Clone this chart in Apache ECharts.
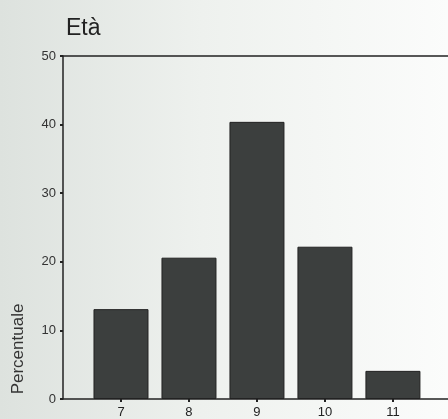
<!DOCTYPE html>
<html><head><meta charset="utf-8">
<script src="https://cdn.jsdelivr.net/npm/echarts@6/dist/echarts.min.js"></script>
<style>html,body{margin:0;padding:0;}#c{width:448px;height:419px;}</style>
</head><body><div id="c"></div>
<script>
const categories = [7, 8, 9, 10, 11];
const percentuale = [13.1, 20.6, 40.4, 22.2, 4.1];
const yTicks = [0, 10, 20, 30, 40, 50];
const titleText = 'Età';
const yName = 'Percentuale';

const chart = echarts.init(document.getElementById('c'));
const F = 'Liberation Sans, Arial, sans-serif';
const axisLine = {show: true, lineStyle: {color: '#222', width: 1.5}};
chart.setOption({
  animation: false,
  backgroundColor: {type: 'linear', x: 0, y: 0, x2: 1, y2: 0, colorStops: [
    {offset: 0, color: '#dde2de'}, {offset: 0.45, color: '#eef1ee'}, {offset: 1, color: '#fbfcfb'}]},
  title: {text: titleText, left: 61, top: 12, textStyle: {fontFamily: F, fontSize: 23, fontWeight: 'normal', color: '#222'}},
  graphic: [{type: 'text', x: 10, y: 349, rotation: Math.PI / 2,
    style: {text: yName, font: '17px ' + F, fill: '#333', align: 'center', verticalAlign: 'top'}}],
  grid: {left: 63, right: 0, top: 56, bottom: 19},
  xAxis: [{type: 'value', min: 6.147, max: 11.81, position: 'bottom',
    axisLine: axisLine, splitLine: {show: false},
    axisTick: {show: true, customValues: categories, length: 3, lineStyle: {color: '#222', width: 2}},
    axisLabel: {customValues: categories, color: '#222', fontFamily: F, fontSize: 13, margin: 7}},
    {type: 'value', min: 6.147, max: 11.81, position: 'top',
    axisLine: axisLine, splitLine: {show: false}, axisTick: {show: false}, axisLabel: {show: false}}],
  yAxis: {type: 'value', min: 0, max: 50, interval: 10,
    axisLine: axisLine, splitLine: {show: false},
    axisTick: {show: true, length: 3, lineStyle: {color: '#222', width: 2}},
    axisLabel: {customValues: yTicks, color: '#333', fontFamily: F, fontSize: 13, margin: 7}},
  series: [{type: 'bar', barWidth: 55, xAxisIndex: 0,
    data: categories.map((c, i) => [c, percentuale[i]]),
    itemStyle: {color: '#3c3f3e', borderColor: '#222', borderWidth: 1}}]
});
</script></body></html>
